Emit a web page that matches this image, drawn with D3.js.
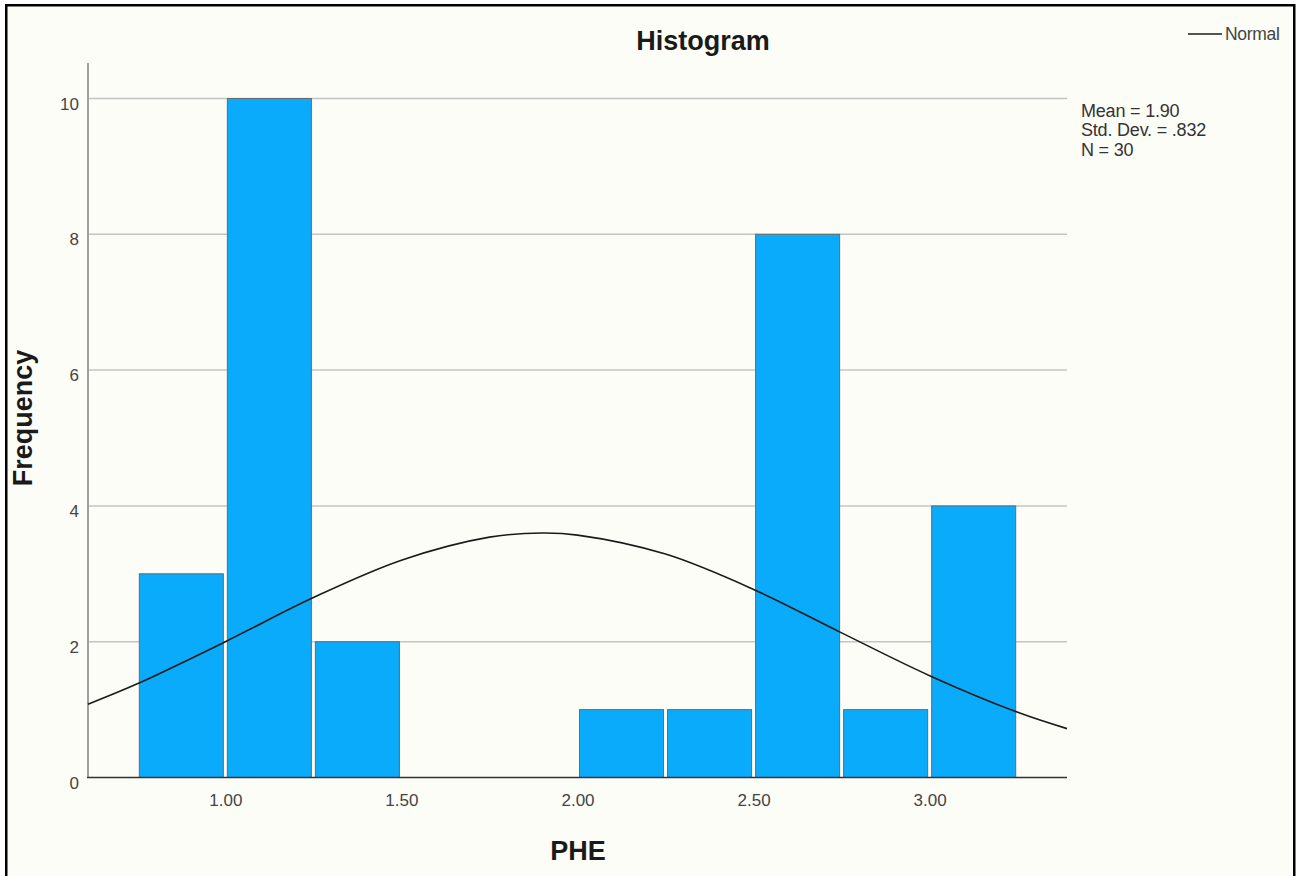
<!DOCTYPE html>
<html>
<head>
<meta charset="utf-8">
<script src="https://cdn.jsdelivr.net/npm/d3@7"></script>
<style>
html,body{margin:0;padding:0;background:#ffffff;}
svg{display:block;}
text{font-family:"Liberation Sans",Arial,sans-serif;}
</style>
</head>
<body>
<svg id="chart" width="1296" height="876"></svg>
<script>
// ---- data ----
const binStarts = [0.75, 1.00, 1.25, 1.50, 1.75, 2.00, 2.25, 2.50, 2.75, 3.00];
const binWidth = 0.25;
const frequencies = [3, 10, 2, 0, 0, 1, 1, 8, 1, 4];
const xTicks = [1.00, 1.50, 2.00, 2.50, 3.00];
const xTickLabels = ["1.00", "1.50", "2.00", "2.50", "3.00"];
const yTicks = [0, 2, 4, 6, 8, 10];
// normal curve (x, frequency)
const curveX = [0.61, 0.75, 1.00, 1.25, 1.50, 1.75, 1.90, 2.00, 2.25, 2.50, 2.75, 3.00, 3.25, 3.39];
const curveY = [1.08, 1.38, 2.00, 2.65, 3.20, 3.54, 3.60, 3.57, 3.29, 2.77, 2.13, 1.50, 0.96, 0.72];
const statsLines = ["Mean = 1.90", "Std. Dev. = .832", "N = 30"];
const legendLabel = "Normal";
const titleText = "Histogram";
const xTitle = "PHE";
const yTitle = "Frequency";

// ---- drawing ----
const svg = d3.select("#chart");
const left = 88, right = 1067, bottom = 777.5, top10 = 98.5, axisTop = 63;

// frame
svg.append("rect").attr("x", 6.25).attr("y", 5.25).attr("width", 1288).attr("height", 900)
  .attr("fill", "#fdfdf8").attr("stroke", "#000").attr("stroke-width", 2.5);

const x = d3.scaleLinear().domain([0.61, 3.39]).range([left, right]);
const y = d3.scaleLinear().domain([0, 10]).range([bottom, top10]);

// gridlines
svg.append("g").selectAll("line").data(yTicks.filter(d => d > 0)).join("line")
  .attr("x1", left).attr("x2", right)
  .attr("y1", d => y(d)).attr("y2", d => y(d))
  .attr("stroke", "#c4c4c4").attr("stroke-width", 1.5);

// y axis
const yAxis = d3.axisLeft(y).tickValues(yTicks).tickSize(0).tickPadding(9).tickFormat(d3.format("d"));
const gy = svg.append("g").attr("transform", `translate(${left},0)`).call(yAxis);
gy.select(".domain").remove();
gy.selectAll("text").attr("font-size", 17).attr("fill", "#444")
  .attr("font-family", "'Liberation Sans',Arial,sans-serif").attr("dy", "0.62em");
svg.append("line").attr("x1", left).attr("x2", left).attr("y1", axisTop).attr("y2", bottom)
  .attr("stroke", "#a0a0a0").attr("stroke-width", 2);

// bars
svg.append("g").selectAll("rect").data(binStarts.map((b, i) => ({b, f: frequencies[i]})).filter(d => d.f > 0))
  .join("rect")
  .attr("x", d => x(d.b) + 2)
  .attr("width", d => x(d.b + binWidth) - x(d.b) - 4)
  .attr("y", d => y(d.f))
  .attr("height", d => y(0) - y(d.f))
  .attr("fill", "#0aabfa").attr("stroke", "#6a6a6a").attr("stroke-width", 1);

// x axis
const xAxis = d3.axisBottom(x).tickValues(xTicks).tickSize(0).tickPadding(16)
  .tickFormat((d, i) => xTickLabels[i]);
const gx = svg.append("g").attr("transform", `translate(0,${bottom})`).call(xAxis);
gx.select(".domain").remove();
gx.selectAll("text").attr("font-size", 17).attr("fill", "#444")
  .attr("font-family", "'Liberation Sans',Arial,sans-serif");
svg.append("line").attr("x1", left - 1).attr("x2", right).attr("y1", bottom).attr("y2", bottom)
  .attr("stroke", "#333").attr("stroke-width", 1.5);

// normal curve
const line = d3.line().x((d, i) => x(curveX[i])).y(d => y(d)).curve(d3.curveCatmullRom);
svg.append("path").datum(curveY).attr("d", line)
  .attr("fill", "none").attr("stroke", "#1a1a1a").attr("stroke-width", 1.6);

// titles
svg.append("text").attr("x", 703).attr("y", 50).attr("text-anchor", "middle")
  .attr("font-size", 27).attr("font-weight", "bold").attr("fill", "#1a1a1a").text(titleText);
svg.append("text").attr("x", 578).attr("y", 860).attr("text-anchor", "middle")
  .attr("font-size", 27).attr("font-weight", "bold").attr("fill", "#1a1a1a").text(xTitle);
svg.append("text").attr("transform", "translate(32,418) rotate(-90)").attr("text-anchor", "middle")
  .attr("font-size", 27).attr("font-weight", "bold").attr("fill", "#1a1a1a").text(yTitle);

// legend
svg.append("line").attr("x1", 1188).attr("x2", 1222).attr("y1", 34).attr("y2", 34)
  .attr("stroke", "#1a1a1a").attr("stroke-width", 1.6);
svg.append("text").attr("x", 1225).attr("y", 40).attr("font-size", 17.5).attr("fill", "#444")
  .attr("letter-spacing", -0.3).text(legendLabel);

// stats
svg.append("g").selectAll("text").data(statsLines).join("text")
  .attr("x", 1081).attr("y", (d, i) => 116.5 + i * 19.7)
  .attr("font-size", 18).attr("fill", "#333").attr("letter-spacing", -0.2)
  .text(d => d);
</script>
</body>
</html>
